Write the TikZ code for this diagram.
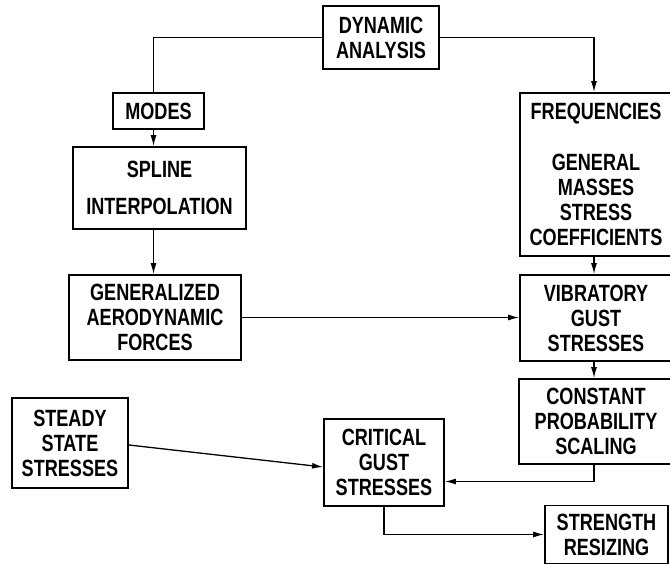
\documentclass[tikz,border=0pt]{standalone}
\usepackage{fontspec}
\usetikzlibrary{arrows.meta}
\newfontfamily\flowfont[FakeStretch=0.77]{Liberation Sans}

\begin{document}
\begin{tikzpicture}[
    x=1pt,y=-1pt,
    box/.style={rectangle,draw,line width=1.8pt,inner sep=0pt,align=center,
      font=\flowfont\bfseries\fontsize{23.5}{25}\selectfont},
    arrow/.style={-{Latex[length=11pt,width=6pt]},line width=1.3pt},
    link/.style={line width=1.3pt}
  ]
    \useasboundingbox (0,0) rectangle (670,564);
    \clip (0,0) rectangle (670,564);
    \node[box,minimum width=116pt,minimum height=63pt] (dyn) at (381,37.5) {DYNAMIC\\ANALYSIS};
    \node[box,minimum width=91pt,minimum height=36pt] (modes) at (158.5,111) {MODES};
    \node[box,minimum width=173pt,minimum height=82pt] (spline) at (159.5,188) {SPLINE\\[12pt]INTERPOLATION};
    \node[box,minimum width=172pt,minimum height=85pt] (gen) at (155,317.5) {GENERALIZED\\AERODYNAMIC\\FORCES};
    \node[box,minimum width=152pt,minimum height=163pt] (freq) at (596,174.5) {FREQUENCIES\\[26pt]GENERAL\\MASSES\\STRESS\\COEFFICIENTS};
    \node[box,minimum width=152pt,minimum height=86pt] (vib) at (596,318) {VIBRATORY\\GUST\\STRESSES};
    \node[box,minimum width=154pt,minimum height=85pt] (const) at (596,421.5) {CONSTANT\\PROBABILITY\\SCALING};
    \node[box,minimum width=116pt,minimum height=90pt] (steady) at (70,443) {STEADY\\STATE\\STRESSES};
    \node[box,minimum width=120pt,minimum height=87pt] (crit) at (384,462.5) {CRITICAL\\GUST\\STRESSES};
    \node[box,minimum width=123pt,minimum height=58pt] (strength) at (606.5,534.5) {STRENGTH\\RESIZING};
    \draw[link] (dyn.west) -| ([xshift=-5pt]modes.north);
    \draw[arrow] (dyn.east) -| ([xshift=-2pt]freq.north);
    \draw[arrow] ([xshift=-5pt]modes.south) -- ([xshift=-5pt]modes.south |- spline.north);
    \draw[arrow] ([xshift=-6pt]spline.south) -- ([xshift=-6pt]spline.south |- gen.north);
    \draw[arrow] (gen.east) -- (gen.east -| vib.west);
    \draw[arrow] ([xshift=-2pt]freq.south) -- ([xshift=-2pt]freq.south |- vib.north);
    \draw[arrow] ([xshift=-2pt]vib.south) -- ([xshift=-2pt]vib.south |- const.north);
    \draw[arrow] ([xshift=-2pt]const.south) |- ([yshift=-19pt]crit.east);
    \draw[arrow] ([yshift=-2pt]steady.east) -- ([yshift=-4.5pt]crit.west);
    \draw[arrow] (crit.south) |- (strength.west);
  \end{tikzpicture}
\end{document}
